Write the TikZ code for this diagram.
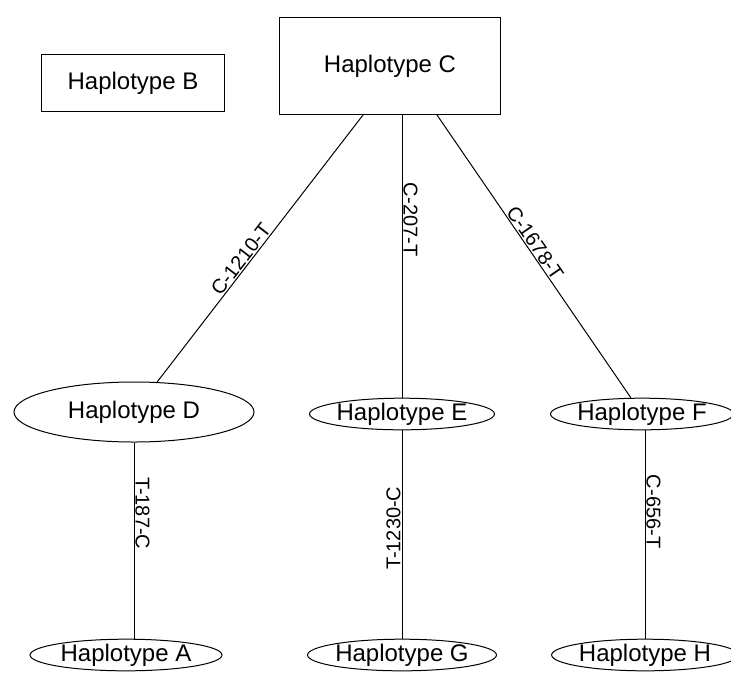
\documentclass[tikz,border=0pt]{standalone}
\usepackage{fontspec}
\setmainfont{Liberation Sans}
\usetikzlibrary{shapes.geometric}

\tikzset{
    hapbox/.style={draw, rectangle, inner sep=0pt, font=\fontsize{24}{28}\selectfont},
    hapell/.style={draw, ellipse, inner sep=0pt, font=\fontsize{24}{28}\selectfont},
    mut/.style={sloped, above, inner sep=1pt, font=\fontsize{20}{24}\selectfont}
}

\begin{document}
\begin{tikzpicture}[x=1pt, y=-1pt, line width=1pt]
    \useasboundingbox (0,0) rectangle (731,673);
    % top row
    \node[hapbox, minimum width=183, minimum height=57] (B) at (133,83) {Haplotype B};
    \node[hapbox, minimum width=221, minimum height=97] (C) at (390,66) {Haplotype C};
    % middle row
    \node[hapell, minimum width=240, minimum height=60] (D) at (134,412) {Haplotype D};
    \node[hapell, minimum width=180, minimum height=28] (E) at (402,414) {Haplotype E};
    \node[hapell, minimum width=176, minimum height=28] (F) at (642,414) {Haplotype F};
    % bottom row
    \node[hapell, minimum width=192, minimum height=28] (A) at (126,655) {Haplotype A};
    \node[hapell, minimum width=189, minimum height=28] (G) at (402,655) {Haplotype G};
    \node[hapell, minimum width=180, minimum height=28] (H) at (645,655) {Haplotype H};

    \draw (D) -- ([xshift=-27]C.south) node[mut, pos=0.44] {C-1210-T};
    \draw (E.north |- C.south) -- (E) node[mut, pos=0.37] {C-207-T};
    \draw ([xshift=47]C.south) -- (F) node[mut, pos=0.47] {C-1678-T};
    \draw (D) -- (D |- A.north) node[mut, pos=0.36] {T-187-C};
    \draw (G) -- (E) node[mut, pos=0.53] {T-1230-C};
    \draw (H.north |- F.south) -- (H.north) node[mut, pos=0.39] {C-656-T};
\end{tikzpicture}
\end{document}
